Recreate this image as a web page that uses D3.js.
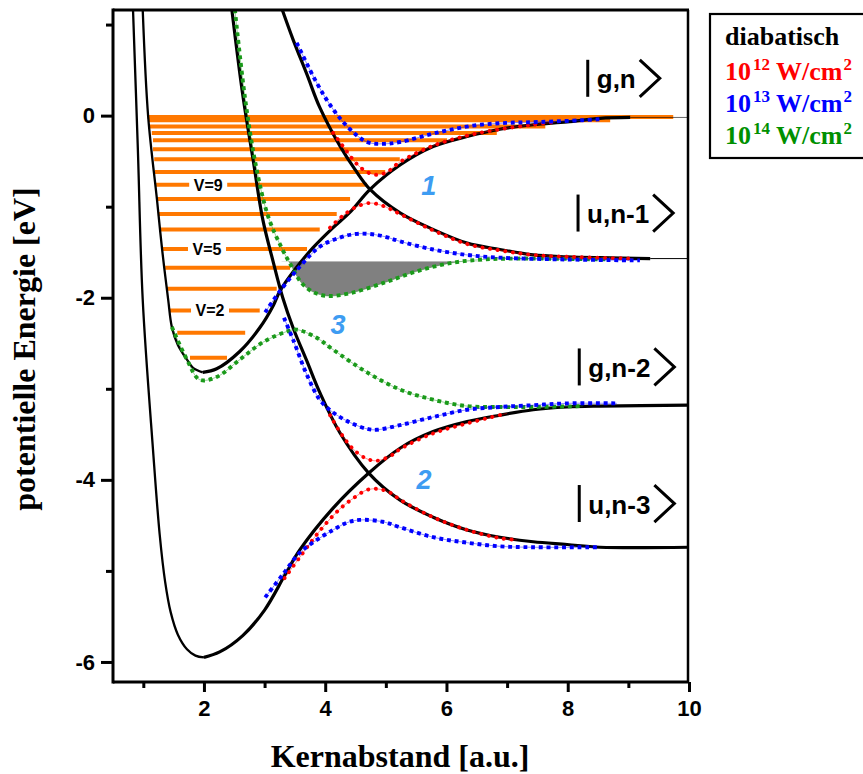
<!DOCTYPE html>
<html>
<head>
<meta charset="utf-8">
<script src="https://cdnjs.cloudflare.com/ajax/libs/d3/7.8.5/d3.min.js"></script>
<style>
  body { margin: 0; background: #fff; }
  svg { display: block; }
  .tick text { font-family: "Liberation Sans", Arial, sans-serif; font-weight: bold; font-size: 22px; fill: #000; }
  .tick line { stroke: #000; stroke-width: 3; }
</style>
</head>
<body>
<div id="chart"></div>
<script>
// diabatic curves, [R in a.u., E in eV]
var curveGn = [[0.99,1.165],[1.08,-0.01],[1.225,-0.92],[1.31,-1.47],[1.41,-2.02],[1.47,-2.32],[1.57,-2.52],
  [1.72,-2.68],[1.82,-2.77],[1.98,-2.82],[2.21,-2.78],[2.59,-2.59],[2.92,-2.33],[3.14,-2.09],[3.25,-1.93],
  [3.50,-1.69],[3.80,-1.45],[4.13,-1.23],[4.41,-1.06],[4.74,-0.81],[5.24,-0.54],[5.78,-0.34],[6.34,-0.23],
  [6.88,-0.15],[7.43,-0.10],[7.99,-0.07],[8.53,-0.03],[9.03,-0.02]]
var curveUn1 = [[3.29,1.165],[3.47,0.835],[3.70,0.45],[3.91,0.09],[4.24,-0.33],[4.49,-0.59],[4.74,-0.81],
  [5.24,-1.07],[5.78,-1.25],[6.34,-1.40],[6.88,-1.47],[7.43,-1.53],[7.99,-1.55],[8.53,-1.56],[9.36,-1.57]]
var curveGn2 = [[0.83,1.165],[0.91,-0.37],[0.99,-2.02],[1.16,-3.67],[1.27,-4.60],[1.36,-5.12],[1.45,-5.45],
  [1.57,-5.70],[1.72,-5.86],[1.86,-5.93],[2.00,-5.95],[2.26,-5.89],[2.64,-5.71],[3.00,-5.43],[3.34,-5.04],
  [3.58,-4.77],[4.13,-4.31],[4.71,-3.93],[5.24,-3.65],[5.78,-3.47],[6.34,-3.36],[6.88,-3.29],[7.43,-3.23],
  [7.99,-3.20],[8.53,-3.19],[10,-3.18]]
var curveUn3 = [[2.46,1.165],[2.64,0.23],[2.81,-0.48],[2.97,-1.14],[3.14,-1.60],[3.30,-2.00],[3.47,-2.33],
  [3.70,-2.70],[3.91,-3.04],[4.24,-3.48],[4.71,-3.92],[5.23,-4.22],[5.78,-4.41],[6.34,-4.55],[6.88,-4.63],
  [7.43,-4.68],[7.99,-4.71],[8.53,-4.74],[10,-4.74]]

// dressed (adiabatic) curves
var red12a = [[4.13,-0.19],[4.33,-0.37],[4.52,-0.53],[4.69,-0.62],[4.85,-0.65],[5.02,-0.62],[5.23,-0.51],
  [5.78,-0.33],[6.34,-0.22],[6.88,-0.15],[7.43,-0.10],[7.79,-0.07]]
var red12b = [[4.08,-1.23],[4.29,-1.10],[4.52,-1.00],[4.74,-0.96],[4.95,-0.99],[5.23,-1.08],[5.78,-1.26],
  [6.34,-1.41],[6.88,-1.48],[7.43,-1.53],[7.99,-1.55],[9.08,-1.57]]
var red12c = [[4.08,-3.29],[4.29,-3.52],[4.49,-3.68],[4.69,-3.77],[4.85,-3.79],[5.07,-3.74],[5.24,-3.66],
  [5.78,-3.49],[6.34,-3.38],[7.0,-3.27]]
var red12d = [[3.33,-5.08],[3.58,-4.85],[3.91,-4.56],[4.24,-4.32],[4.49,-4.19],[4.69,-4.11],[4.87,-4.10],
  [5.07,-4.14],[5.24,-4.22],[5.78,-4.41],[6.34,-4.55],[6.88,-4.64],[7.16,-4.66]]
var blue13a = [[3.53,0.80],[3.86,0.36],[4.13,0.07],[4.41,-0.15],[4.69,-0.29],[4.95,-0.31],[5.23,-0.29],
  [5.89,-0.18],[6.44,-0.11],[6.99,-0.08],[7.54,-0.07],[8.25,-0.05],[8.53,-0.04]]
var blue13b = [[3.01,-2.16],[3.25,-1.93],[3.58,-1.66],[3.91,-1.44],[4.24,-1.34],[4.49,-1.30],[4.74,-1.30],
  [4.99,-1.33],[5.23,-1.38],[5.78,-1.47],[6.34,-1.53],[6.88,-1.56],[7.99,-1.58],[9.19,-1.59]]
var blue13c = [[3.32,-2.22],[3.47,-2.46],[3.70,-2.85],[3.91,-3.12],[4.13,-3.26],[4.41,-3.37],[4.69,-3.44],
  [4.85,-3.45],[5.23,-3.40],[5.78,-3.31],[6.34,-3.23],[6.88,-3.20],[7.43,-3.18],[7.99,-3.16],[8.81,-3.16]]
var blue13d = [[3.01,-5.29],[3.30,-5.04],[3.58,-4.80],[3.86,-4.66],[4.13,-4.55],[4.36,-4.47],[4.57,-4.44],
  [4.95,-4.46],[5.23,-4.52],[5.78,-4.63],[6.34,-4.69],[6.88,-4.73],[7.43,-4.74],[8.48,-4.74]]
var green14a = [[2.51,1.165],[2.68,0.18],[2.86,-0.56],[3.06,-1.11],[3.28,-1.45],[3.45,-1.66],[3.60,-1.83],
  [3.78,-1.93],[4.03,-1.98],[4.41,-1.95],[4.95,-1.84],[5.51,-1.71],[6.06,-1.62],[6.60,-1.58],[7.16,-1.57],[8.70,-1.58]]
var green14b = [[1.47,-2.32],[1.72,-2.68],[1.93,-2.90],[2.21,-2.87],[2.59,-2.68],[2.97,-2.49],[3.37,-2.37],
  [3.53,-2.35],[3.86,-2.44],[4.13,-2.57],[4.69,-2.82],[5.24,-3.01],[5.78,-3.12],[6.34,-3.19],[6.88,-3.20],
  [7.43,-3.20],[8.25,-3.19]]
var grayTop = -1.60

// vibrational levels of |g,n>
var vibE = [-2.66,-2.385,-2.14,-1.90,-1.67,-1.465,-1.25,-1.08,-0.915,-0.76,-0.62,-0.48,-0.37,-0.27,-0.19,-0.12,-0.05,-0.015]
var vibLeft = [1.77,1.56,1.44,1.39,1.36,1.31,1.26,1.24,1.22,1.21,1.19,1.18,1.16,1.16,1.14,1.11,1.08,1.07]
var vibRight = [2.38,2.68,2.92,3.20,3.42,3.70,3.91,4.19,4.41,4.69,4.99,5.23,5.65,6.01,6.83,7.63,8.70,9.74]
var vibLabels = ["V=2", "V=5", "V=9"]
var vibLabelLevel = [2, 5, 9]
var vibLabelX = [2.10, 2.05, 2.07]

var stateNames = ["g,n", "u,n-1", "g,n-2", "u,n-3"]
var stateX = [8.33, 8.17, 8.19, 8.19]
var stateY = [0.41, -1.07, -2.76, -4.26]

var crossNames = ["1", "2", "3"]
var crossX = [5.71, 5.63, 4.21]
var crossY = [-0.77, -3.99, -2.29]

var legendBase = ["10", "10", "10"]
var legendExp = ["12", "13", "14"]
var legendColors = ["#ff0000", "#0000ff", "#009000"]

var xMajor = [2, 4, 6, 8, 10]
var xMinor = [1, 3, 5, 7, 9]
var yMajor = [-6, -4, -2, 0]
var yMinor = [-5, -3, -1, 1]

var width = 863, height = 774
var x = d3.scaleLinear().domain([0.5, 10]).range([113, 689])
var y = d3.scaleLinear().domain([-6.22, 1.16]).range([682, 10])

var svg = d3.select("#chart").append("svg")
  .attr("width", width)
  .attr("height", height)
  .style("background", "#fff")

var defs = svg.append("defs")
defs.append("clipPath").attr("id", "plot-clip").append("rect")
  .attr("x", x(0.5)).attr("y", y(1.16))
  .attr("width", x(10) - x(0.5)).attr("height", y(-6.22) - y(1.16))
defs.append("clipPath").attr("id", "gray-clip").append("rect")
  .attr("x", x(0.5)).attr("y", y(grayTop))
  .attr("width", x(10) - x(0.5)).attr("height", y(-6.22) - y(grayTop))

var plot = svg.append("g").attr("clip-path", "url(#plot-clip)")

var line = d3.line()
  .x(function(d){ return x(d[0]) })
  .y(function(d){ return y(d[1]) })
  .curve(d3.curveCatmullRom.alpha(0.5))

// orange vibrational levels
plot.selectAll(".vib")
    .data(vibE)
    .enter()
  .append("line")
    .attr("x1", function(d, i){ return x(vibLeft[i]) })
    .attr("x2", function(d, i){ return x(vibRight[i]) })
    .attr("y1", function(d){ return y(d) })
    .attr("y2", function(d){ return y(d) })
    .attr("stroke", "#ff7800")
    .attr("stroke-width", 4)

var vlab = plot.selectAll(".vlab")
    .data(vibLabels)
    .enter()
  .append("g")
    .attr("transform", function(d, i){
      return "translate(" + x(vibLabelX[i]) + "," + y(vibE[vibLabelLevel[i]]) + ")"
    })
vlab.append("rect")
    .attr("x", -19).attr("y", -6).attr("width", 38).attr("height", 12)
    .attr("fill", "#fff")
vlab.append("text")
    .attr("text-anchor", "middle")
    .attr("dy", "0.36em")
    .attr("font-family", "Liberation Sans, Arial, sans-serif")
    .attr("font-weight", "bold")
    .attr("font-size", 16)
    .text(function(d){ return d })

// gray area under the line at -1.6 eV
plot.append("path")
    .datum(green14a.filter(function(d){ return d[0] > 3.2 && d[0] < 7 }))
    .attr("clip-path", "url(#gray-clip)")
    .attr("d", d3.area()
      .x(function(d){ return x(d[0]) })
      .y0(y(grayTop))
      .y1(function(d){ return y(d[1]) })
      .curve(d3.curveCatmullRom.alpha(0.5)))
    .attr("fill", "#808080")

// thin asymptotes at the right
var asym = [[curveGn, 0.6], [curveUn1, 1]]
asym.forEach(function(a){
  var last = a[0][a[0].length - 1]
  plot.append("line")
    .attr("x1", x(last[0])).attr("x2", x(10))
    .attr("y1", y(last[1])).attr("y2", y(last[1]))
    .attr("stroke", "#000").attr("stroke-width", a[1])
})

// black diabatic curves: thinner left wall, thick right part
function drawBlack(data, splitX){
  var left = data.filter(function(d){ return d[0] <= splitX })
  var right = data.filter(function(d){ return d[0] >= splitX })
  if (left.length > 1) {
    plot.append("path").attr("d", line(left))
      .attr("fill", "none").attr("stroke", "#000").attr("stroke-width", 2.3)
  }
  plot.append("path").attr("d", line(right))
    .attr("fill", "none").attr("stroke", "#000").attr("stroke-width", 3.2)
}
drawBlack(curveGn, 1.98)
drawBlack(curveGn2, 2.0)
drawBlack(curveUn1, 0)
drawBlack(curveUn3, 0)

// dotted curves
function drawDots(data, color, round){
  plot.append("path").attr("d", line(data))
    .attr("fill", "none").attr("stroke", color).attr("stroke-width", 1)
    .attr("stroke-opacity", 0.45)
  plot.append("path").attr("d", line(data))
    .attr("fill", "none")
    .attr("stroke", color)
    .attr("stroke-width", 3.9)
    .attr("stroke-linecap", round ? "round" : "butt")
    .attr("stroke-dasharray", round ? "0.1 7.6" : "3.9 3.8")
}
var greenDot = "#1a9a1a"
drawDots(green14a, greenDot, false)
drawDots(green14b, greenDot, false)
drawDots(red12a, "#ff0000", true)
drawDots(red12b, "#ff0000", true)
drawDots(red12c, "#ff0000", true)
drawDots(red12d, "#ff0000", true)
drawDots(blue13a, "#0000ff", false)
drawDots(blue13b, "#0000ff", false)
drawDots(blue13c, "#0000ff", false)
drawDots(blue13d, "#0000ff", false)

// crossing numbers
svg.selectAll(".cross")
    .data(crossNames)
    .enter()
  .append("text")
    .attr("x", function(d, i){ return x(crossX[i]) })
    .attr("y", function(d, i){ return y(crossY[i]) })
    .attr("dy", "0.36em")
    .attr("text-anchor", "middle")
    .attr("font-family", "Liberation Sans, Arial, sans-serif")
    .attr("font-weight", "bold")
    .attr("font-style", "italic")
    .attr("font-size", 27)
    .attr("fill", "#3d9cf2")
    .text(function(d){ return d })

// state labels |...>
var st = svg.selectAll(".state")
    .data(stateNames)
    .enter()
  .append("g")
    .attr("transform", function(d, i){ return "translate(" + x(stateX[i]) + "," + y(stateY[i]) + ")" })
st.append("line")
    .attr("x1", 0).attr("x2", 0).attr("y1", -18.5).attr("y2", 18.5)
    .attr("stroke", "#000").attr("stroke-width", 3)
st.append("text")
    .attr("x", 9).attr("y", 10)
    .attr("font-family", "Liberation Sans, Arial, sans-serif")
    .attr("font-weight", "bold")
    .attr("font-size", 26)
    .text(function(d){ return d })
st.each(function(){
  var g = d3.select(this)
  var w = g.select("text").node().getComputedTextLength()
  var bx = 9 + w + 4
  g.append("path")
    .attr("d", "M" + bx + ",-18.5L" + (bx + 20) + ",0L" + bx + ",18.5")
    .attr("fill", "none").attr("stroke", "#000").attr("stroke-width", 3)
})

// axes
var xAxisMajor = d3.axisBottom(x).tickValues(xMajor).tickSize(10).tickPadding(8).tickFormat(d3.format("d"))
var xAxisMinor = d3.axisBottom(x).tickValues(xMinor).tickSize(6).tickFormat("")
var yAxisMajor = d3.axisLeft(y).tickValues(yMajor).tickSize(12).tickPadding(6).tickFormat(d3.format("d"))
var yAxisMinor = d3.axisLeft(y).tickValues(yMinor).tickSize(7).tickFormat("")

svg.append("g").attr("transform", "translate(0," + y(-6.22) + ")").call(xAxisMajor)
svg.append("g").attr("transform", "translate(0," + y(-6.22) + ")").call(xAxisMinor)
svg.append("g").attr("transform", "translate(" + x(0.5) + ",0)").call(yAxisMajor)
svg.append("g").attr("transform", "translate(" + x(0.5) + ",0)").call(yAxisMinor)
svg.selectAll(".domain").remove()
svg.selectAll(".tick text").text(function(){ return d3.select(this).text().replace("−", "-") })

// frame
var frame = [
  [x(0.5), y(-6.22), x(10), y(-6.22), 3],
  [x(0.5), y(1.16), x(10), y(1.16), 3],
  [x(0.5), y(-6.22) + 1.5, x(0.5), y(1.16) - 1.5, 3],
  [x(10) - 1, y(-6.22), x(10) - 1, y(1.16), 2.5]
]
svg.selectAll(".frame")
    .data(frame)
    .enter()
  .append("line")
    .attr("x1", function(d){ return d[0] })
    .attr("y1", function(d){ return d[1] })
    .attr("x2", function(d){ return d[2] })
    .attr("y2", function(d){ return d[3] })
    .attr("stroke", "#000")
    .attr("stroke-width", function(d){ return d[4] })

// axis titles
svg.append("text")
    .attr("x", 400).attr("y", 767)
    .attr("text-anchor", "middle")
    .attr("font-family", "Liberation Serif, Times New Roman, serif")
    .attr("font-weight", "bold")
    .attr("font-size", 32)
    .text("Kernabstand [a.u.]")
svg.append("text")
    .attr("transform", "translate(35,349) rotate(-90)")
    .attr("text-anchor", "middle")
    .attr("font-family", "Liberation Serif, Times New Roman, serif")
    .attr("font-weight", "bold")
    .attr("font-size", 32)
    .text("potentielle Energie [eV]")

// legend
var legend = svg.append("g")
legend.append("rect")
    .attr("x", 710).attr("y", 14).attr("width", 170).attr("height", 144)
    .attr("fill", "#fff").attr("stroke", "#000").attr("stroke-width", 2.2)
legend.append("text")
    .attr("x", 725).attr("y", 45)
    .attr("font-family", "Liberation Serif, Times New Roman, serif")
    .attr("font-weight", "bold")
    .attr("font-size", 26)
    .text("diabatisch")
legendExp.forEach(function(e, i){
  var t = legend.append("text")
    .attr("x", 725).attr("y", 80 + i * 32)
    .attr("font-family", "Liberation Serif, Times New Roman, serif")
    .attr("font-weight", "bold")
    .attr("font-size", 26)
    .attr("fill", legendColors[i])
  t.append("tspan").text(legendBase[i])
  t.append("tspan").attr("dy", -10).attr("dx", 2).attr("font-size", 17).text(e)
  t.append("tspan").attr("dy", 10).text(" W/cm")
  t.append("tspan").attr("dy", -10).attr("dx", 1).attr("font-size", 17).text("2")
})
</script>
</body>
</html>
